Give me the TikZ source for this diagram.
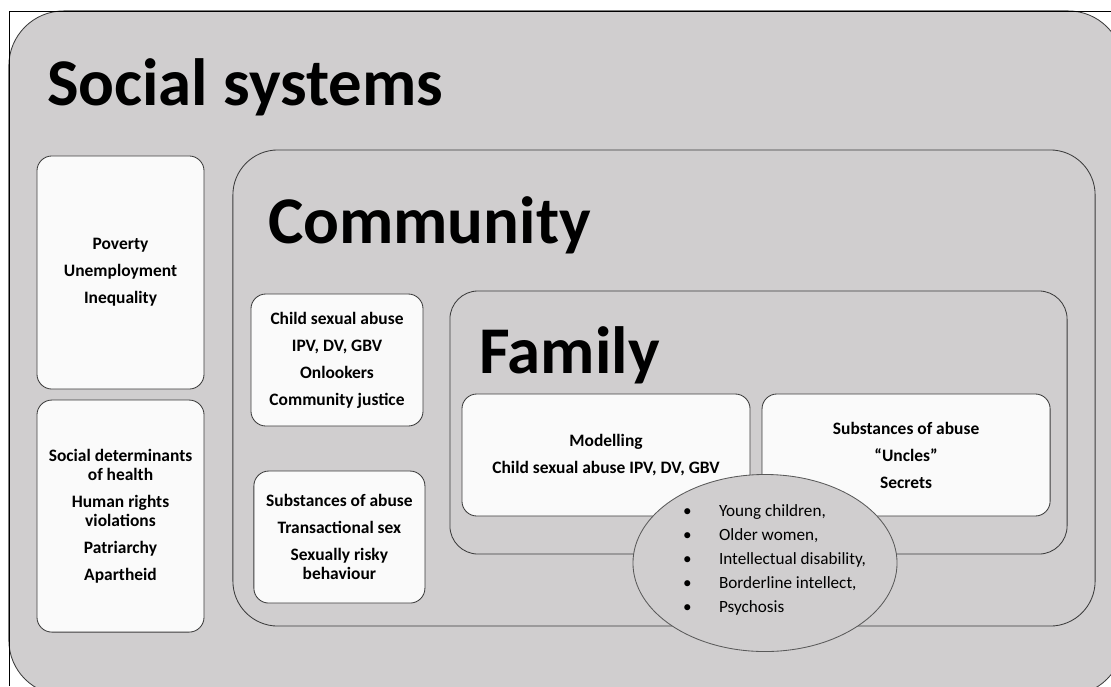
\documentclass[tikz,border=0pt]{standalone}
\usepackage{fontspec}
\setmainfont{Carlito}
\usetikzlibrary{positioning, shapes.geometric}
\definecolor{slidegrey}{RGB}{208,206,207}
\definecolor{boxwhite}{RGB}{250,250,250}
\definecolor{edgegrey}{RGB}{60,60,60}

\begin{document}
\begin{tikzpicture}[
  x=0.025cm, y=-0.025cm,
  every node/.style={inner sep=0pt, outer sep=0pt},
  layer/.style={draw=edgegrey, line width=0.6pt, fill=slidegrey},
  itembox/.style={draw=edgegrey, line width=0.6pt, fill=boxwhite, rounded corners=10.6pt,
    align=center, font=\bfseries\fontsize{12.4}{13.5}\selectfont},
  heading/.style={anchor=base west, font=\bfseries\fontsize{47.5}{50}\selectfont},
  risk/.style={ellipse, draw=edgegrey!85, line width=0.6pt, fill=slidegrey}
]
\useasboundingbox (0,0) rectangle (1111,686);
\clip (0,0) rectangle (1111,686);

% Nested layers
\node[layer, rounded corners=39pt, minimum width=27.85cm, minimum height=17.1cm] (social) at (566,353) {};
\node[layer, rounded corners=32pt, minimum width=21.55cm, minimum height=11.9cm] (community) at (664,388) {};
\node[layer, rounded corners=20pt, minimum width=15.425cm, minimum height=6.575cm] (family) at (758.5,422.5) {};

% Slide frame
\draw[line width=0.6pt] (9,686) |- (1111,11);

% Titles
\node[heading] (socialtitle) at (47,105) {Social systems};
\node[heading] (communitytitle) at (268,243) {Community};
\node[heading] (familytitle) at (479,373) {Family};

% Social systems boxes
\node[itembox, minimum width=4.175cm, minimum height=5.825cm] (poverty) at (120.5,272.5)
  {Poverty\\[5.7pt] Unemployment\\[5.7pt] Inequality};
\node[itembox, minimum width=4.175cm, minimum height=5.8cm, below=0.275cm of poverty] (determinants)
  {Social determinants\\of health\\[5.7pt] Human rights\\violations\\[5.7pt] Patriarchy\\[5.7pt] Apartheid};

% Community boxes
\node[itembox, minimum width=4.3cm, minimum height=3.3cm] (abuse) at (337,360)
  {Child sexual abuse\\[5.7pt] IPV, DV, GBV\\[5.7pt] Onlookers\\[5.7pt] Community justice};
\node[itembox, minimum width=4.275cm, minimum height=3.3cm, below=1.125cm of abuse, xshift=0.06cm] (substances)
  {Substances of abuse\\[5.7pt] Transactional sex\\[5.7pt] Sexually risky\\behaviour};

% Family boxes
\node[itembox, minimum width=7.2cm, minimum height=3.05cm] (modelling) at (606,455)
  {Modelling\\[5.7pt] Child sexual abuse IPV, DV, GBV};
\node[itembox, minimum width=7.2cm, minimum height=3.05cm, right=0.3cm of modelling] (uncles)
  {Substances of abuse\\[5.7pt] “Uncles”\\[5.7pt] Secrets};

% Vulnerable groups
\node[risk, minimum width=6.6cm, minimum height=4.425cm] (vulnerable) at (765,563) {};
\node[anchor=north west, align=left, font=\fontsize{12.2}{17}\selectfont] (vulnerablelist) at (719,505)
  {\llap{\textbullet\hspace{19.5pt}}Young children,\\
   \llap{\textbullet\hspace{19.5pt}}Older women,\\
   \llap{\textbullet\hspace{19.5pt}}Intellectual disability,\\
   \llap{\textbullet\hspace{19.5pt}}Borderline intellect,\\
   \llap{\textbullet\hspace{19.5pt}}Psychosis};
\end{tikzpicture}
\end{document}
